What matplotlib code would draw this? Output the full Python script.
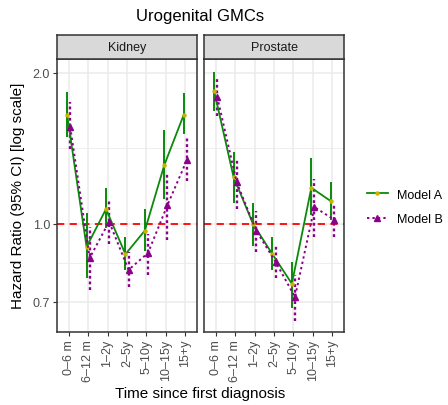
import numpy as np
import matplotlib
matplotlib.use("Agg")
import matplotlib.pyplot as plt
from matplotlib.ticker import FixedLocator, NullFormatter, NullLocator
from matplotlib.lines import Line2D

plt.rcParams['font.family'] = ['Liberation Sans', 'DejaVu Sans']

categories = ["0\u20136 m", "6\u201312 m", "1\u20132y", "2\u20135y", "5\u201310y", "10\u201315y", "15+y"]
panels = ["Kidney", "Prostate"]

kidney_a = [1.65, 0.90, 1.07, 0.87, 0.97, 1.31, 1.65]
kidney_a_lo = [1.49, 0.78, 0.98, 0.81, 0.885, 1.12, 1.51]
kidney_a_hi = [1.83, 1.05, 1.18, 0.94, 1.07, 1.54, 1.82]
kidney_b = [1.56, 0.855, 1.01, 0.81, 0.875, 1.09, 1.34]
kidney_b_lo = [1.41, 0.74, 0.91, 0.75, 0.79, 0.93, 1.22]
kidney_b_hi = [1.75, 0.985, 1.12, 0.878, 0.955, 1.26, 1.48]

prostate_a = [1.84, 1.24, 1.00, 0.87, 0.76, 1.18, 1.11]
prostate_a_lo = [1.68, 1.10, 0.905, 0.81, 0.68, 1.04, 1.02]
prostate_a_hi = [2.01, 1.39, 1.10, 0.94, 0.84, 1.35, 1.21]
prostate_b = [1.79, 1.21, 0.97, 0.84, 0.715, 1.08, 1.02]
prostate_b_lo = [1.64, 1.07, 0.88, 0.78, 0.64, 0.94, 0.94]
prostate_b_hi = [1.96, 1.35, 1.06, 0.905, 0.79, 1.23, 1.09]

data = {
    "Kidney": (kidney_a, kidney_a_lo, kidney_a_hi, kidney_b, kidney_b_lo, kidney_b_hi),
    "Prostate": (prostate_a, prostate_a_lo, prostate_a_hi, prostate_b, prostate_b_lo, prostate_b_hi),
}

yticks = [0.7, 1.0, 2.0]
yticklabels = ["0.7", "1.0", "2.0"]

green = "#0A8A0A"
purple = "#8B008B"
grid_c = "#EBEBEB"
border_c = "#333333"
text_c = "#4D4D4D"

W, H = 448, 406
fig = plt.figure(figsize=(W / 100, H / 100), dpi=100)

def fx(px):
    return px / W

def fy(py):
    return 1 - py / H

panel_lefts = [57, 204]
panel_w = 140
top, bottom = 60, 333
strip_top = 36

x = np.arange(1, len(categories) + 1)
dodge = 0.08
ymin, ymax = 0.609, 2.13

for i, name in enumerate(panels):
    left = panel_lefts[i]
    ax = fig.add_axes([fx(left), fy(bottom), fx(panel_w), (bottom - top) / H])
    ax.set_yscale("log")
    ax.set_xlim(0.4, len(categories) + 0.6)
    ax.set_ylim(ymin, ymax)
    for yv in [np.sqrt(0.7 * 1.0), np.sqrt(2.0)]:
        ax.axhline(yv, color=grid_c, lw=0.6, zorder=0)
    for yv in yticks:
        ax.axhline(yv, color=grid_c, lw=1.1, zorder=0)
    for xv in x:
        ax.axvline(xv, color=grid_c, lw=1.1, zorder=0)
    ax.axhline(1.0, color="red", lw=1.3, ls=(0, (4, 3)), zorder=1)

    a, alo, ahi, b, blo, bhi = data[name]
    xa = x - dodge
    xb = x + dodge
    ax.vlines(xa, alo, ahi, color=green, lw=1.4, zorder=3)
    ax.plot(xa, a, color=green, lw=1.3, marker="o", ms=2.2,
            mfc="#C8B400", mec="#C8B400", zorder=4)
    ax.vlines(xb, blo, bhi, color=purple, lw=1.7, linestyles=(0, (1.2, 1.2)), zorder=3)
    ax.plot(xb, b, color=purple, lw=1.4, ls=(0, (1.2, 1.6)), marker="^", ms=5,
            mfc=purple, mec=purple, zorder=4)

    ax.set_xticks(x)
    ax.set_xticklabels(categories, rotation=90, fontsize=9, color=text_c)
    ax.tick_params(axis="x", length=3, width=0.8, color=border_c, pad=2)
    ax.yaxis.set_minor_locator(NullLocator())
    ax.yaxis.set_minor_formatter(NullFormatter())
    ax.yaxis.set_major_locator(FixedLocator(yticks))
    if i == 0:
        ax.set_yticklabels(yticklabels, fontsize=9, color=text_c)
        ax.tick_params(axis="y", length=3, width=0.8, color=border_c, pad=2)
    else:
        ax.tick_params(axis="y", left=False, labelleft=False)
    for s in ax.spines.values():
        s.set_color(border_c)
        s.set_linewidth(1.1)
    ax.set_facecolor("white")

    sax = fig.add_axes([fx(left), fy(top), fx(panel_w), (top - strip_top) / H])
    sax.set_facecolor("#D9D9D9")
    sax.set_xticks([])
    sax.set_yticks([])
    for s in sax.spines.values():
        s.set_color(border_c)
        s.set_linewidth(1.1)
    sax.text(0.5, 0.5, name, ha="center", va="center", fontsize=9,
             color="#1A1A1A", transform=sax.transAxes)

fig.text(fx(200), fy(17), "Urogenital GMCs", ha="center", va="center", fontsize=12, color="black")
fig.text(fx(200), fy(394), "Time since first diagnosis", ha="center", va="center", fontsize=11, color="black")
fig.text(fx(18), fy(196), "Hazard Ratio (95% CI) [log scale]", ha="center", va="center",
         rotation=90, fontsize=11, color="black")

ha = Line2D([], [], color=green, lw=1.3, marker="o", ms=2.2, mfc="#C8B400", mec="#C8B400")
hb = Line2D([], [], color=purple, lw=1.4, ls=(0, (1.2, 1.6)), marker="^", ms=5, mfc=purple, mec=purple)
fig.legend([ha, hb], ["Model A", "Model B"], loc="center left",
           bbox_to_anchor=(fx(358), fy(208)), frameon=False, fontsize=9,
           handlelength=1.7, labelspacing=1.0, handletextpad=0.7, borderpad=0.2)

fig.savefig("out.png", dpi=100)
